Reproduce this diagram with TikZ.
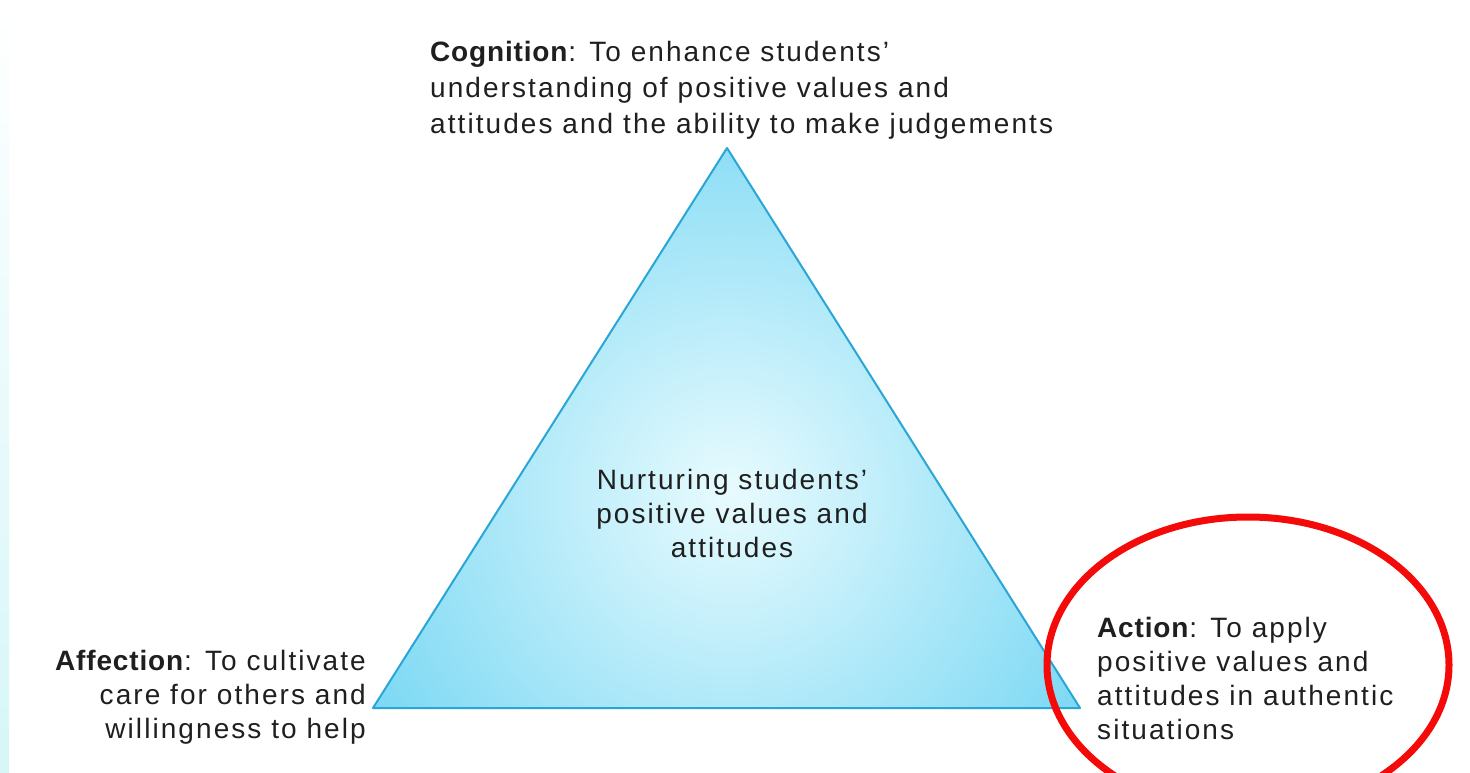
\documentclass[tikz,border=0pt]{standalone}
\usepackage{fontspec}
\setmainfont{Liberation Sans}[LetterSpace=7.4,BoldFeatures={LetterSpace=3}]
\usetikzlibrary{positioning}
\definecolor{tricyan}{HTML}{55CCF0}
\definecolor{trilight}{HTML}{E8FBFE}
\definecolor{triedge}{HTML}{2AA6D6}
\definecolor{markred}{HTML}{F50A0A}
\definecolor{edgetint}{HTML}{D6F6F8}

\begin{document}
\begin{tikzpicture}[x=1pt,y=1pt,
  label text/.style={inner sep=0pt, font=\fontsize{28}{34}\selectfont, text=black!88}]
\useasboundingbox (0,0) rectangle (1470,772);
\fill[white] (0,0) rectangle (1470,772);
\shade[top color=white,bottom color=edgetint] (0,0) rectangle (9,772);
%triangle
\coordinate (apex) at (727,624);
\coordinate (lcorner) at (373,64);
\coordinate (rcorner) at (1080,64);
\begin{scope}
\clip (apex)--(lcorner)--(rcorner)--cycle;
\shade[inner color=trilight,outer color=tricyan] (730,280) circle (560);
\end{scope}
\draw[triedge,line width=2pt,line join=round] (apex)--(lcorner)--(rcorner)--cycle;
%labels
\node[label text,font=\fontsize{28}{36}\selectfont,anchor=north west,align=left] (cog) at (430,731)
  {\textbf{Cognition}: To enhance students'\\understanding of positive values and\\attitudes and the ability to make judgements};
\node[label text,anchor=north,align=center] (mid) at (732,303)
  {Nurturing students'\\positive values and\\attitudes};
\node[label text,anchor=north east,align=right] (aff) at (366,122)
  {\textbf{Affection}: To cultivate\\care for others and\\willingness to help};
\node[label text,anchor=north west,align=left] (act) at (1097,155)
  {\textbf{Action}: To apply\\positive values and\\attitudes in authentic\\situations};
%mark
\begin{scope}
\clip (0,0) rectangle (1470,772);
\draw[markred,line width=7pt] (1248,107) ellipse [x radius=201, y radius=148];
\end{scope}
\end{tikzpicture}
\end{document}
